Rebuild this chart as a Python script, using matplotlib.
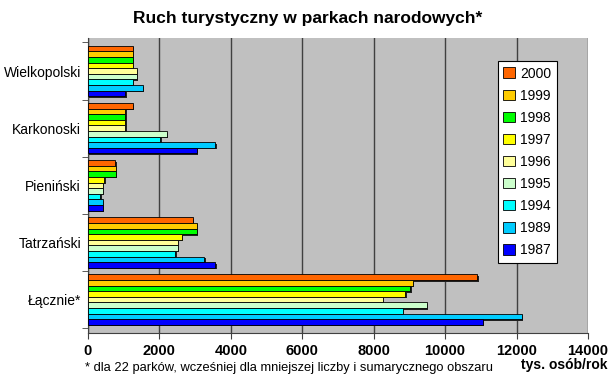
import numpy as np
import matplotlib
matplotlib.use('Agg')
import matplotlib.pyplot as plt
import matplotlib.transforms as mtrans

plt.rcParams['font.family'] = ['Liberation Sans', 'DejaVu Sans']

parki = ['Łącznie*', 'Tatrzański', 'Pieniński', 'Karkonoski', 'Wielkopolski']
lata = ['2000', '1999', '1998', '1997', '1996', '1995', '1994', '1989', '1987']
kolory = ['#FF6600', '#FFCC00', '#00FF00', '#FFFF00', '#FFFF99',
          '#CCFFCC', '#00FFFF', '#00CCFF', '#0000FF']

# tys. osob/rok, w kolejnosci parki (od dolu)
v2000 = [10900, 2940, 760, 1260, 1260]
v1999 = [9100, 3050, 780, 1040, 1250]
v1998 = [9020, 3040, 780, 1040, 1250]
v1997 = [8880, 2630, 450, 1040, 1250]
v1996 = [8260, 2520, 420, 1040, 1370]
v1995 = [9490, 2520, 420, 2210, 1370]
v1994 = [8820, 2440, 340, 2020, 1260]
v1989 = [12150, 3250, 420, 3560, 1540]
v1987 = [11060, 3560, 420, 3050, 1040]
dane = [v2000, v1999, v1998, v1997, v1996, v1995, v1994, v1989, v1987]

fig = plt.figure(figsize=(6.15, 3.83), dpi=100)
ax = fig.add_axes([0.143, 0.131, 0.813, 0.770])
ax.set_facecolor('#C0C0C0')

y = np.arange(len(parki))
h = 0.098
cien = ax.transData + mtrans.ScaledTranslation(1.5/100, -1.5/100, fig.dpi_scale_trans)
for i in range(len(lata)):
    pos = y + (4 - i) * h
    ax.barh(pos, dane[i], height=h, color='#202020', zorder=2, linewidth=0, transform=cien)
    ax.barh(pos, dane[i], height=h, color=kolory[i], edgecolor='black',
            linewidth=0.6, label=lata[i], zorder=3)

ax.set_xlim(0, 14000)
ax.set_ylim(-0.58, 4.58)
ax.set_xticks(np.arange(0, 14001, 2000))
ax.set_xticklabels([str(t) for t in range(0, 14001, 2000)], fontweight='bold', fontsize=10.5)
ax.set_yticks(y)
ax.set_yticklabels(parki, fontsize=10)
ax.set_yticks(np.arange(-0.5, 4.6, 1), minor=True)
ax.tick_params(axis='y', which='major', length=0, pad=5)
ax.tick_params(axis='y', which='minor', length=4, color='#404040')
ax.tick_params(axis='x', length=4, color='#404040', pad=4)
ax.xaxis.grid(True, color='#404040', linewidth=1, zorder=0)
ax.set_axisbelow(True)
for s in ['top', 'right']:
    ax.spines[s].set_visible(False)
ax.spines['left'].set_color('#404040')
ax.spines['bottom'].set_color('#404040')

fig.text(0.5, 0.953, 'Ruch turystyczny w parkach narodowych*', ha='center', va='center',
         fontsize=12.5, fontweight='bold')
fig.text(0.988, 0.048, 'tys. osób/rok', ha='right', va='center', fontsize=10, fontweight='bold')
fig.text(0.138, 0.040, '* dla 22 parków, wcześniej dla mniejszej liczby i sumarycznego obszaru',
         ha='left', va='center', fontsize=9.3)

leg = ax.legend(loc='upper left', bbox_to_anchor=(0.806, 0.945), fontsize=10,
                frameon=True, fancybox=False, edgecolor='black', framealpha=1,
                handlelength=0.8, handleheight=0.8, handletextpad=0.4,
                labelspacing=0.58, borderpad=0.4)
leg.get_frame().set_linewidth(0.8)

plt.savefig('out.png', dpi=100)
